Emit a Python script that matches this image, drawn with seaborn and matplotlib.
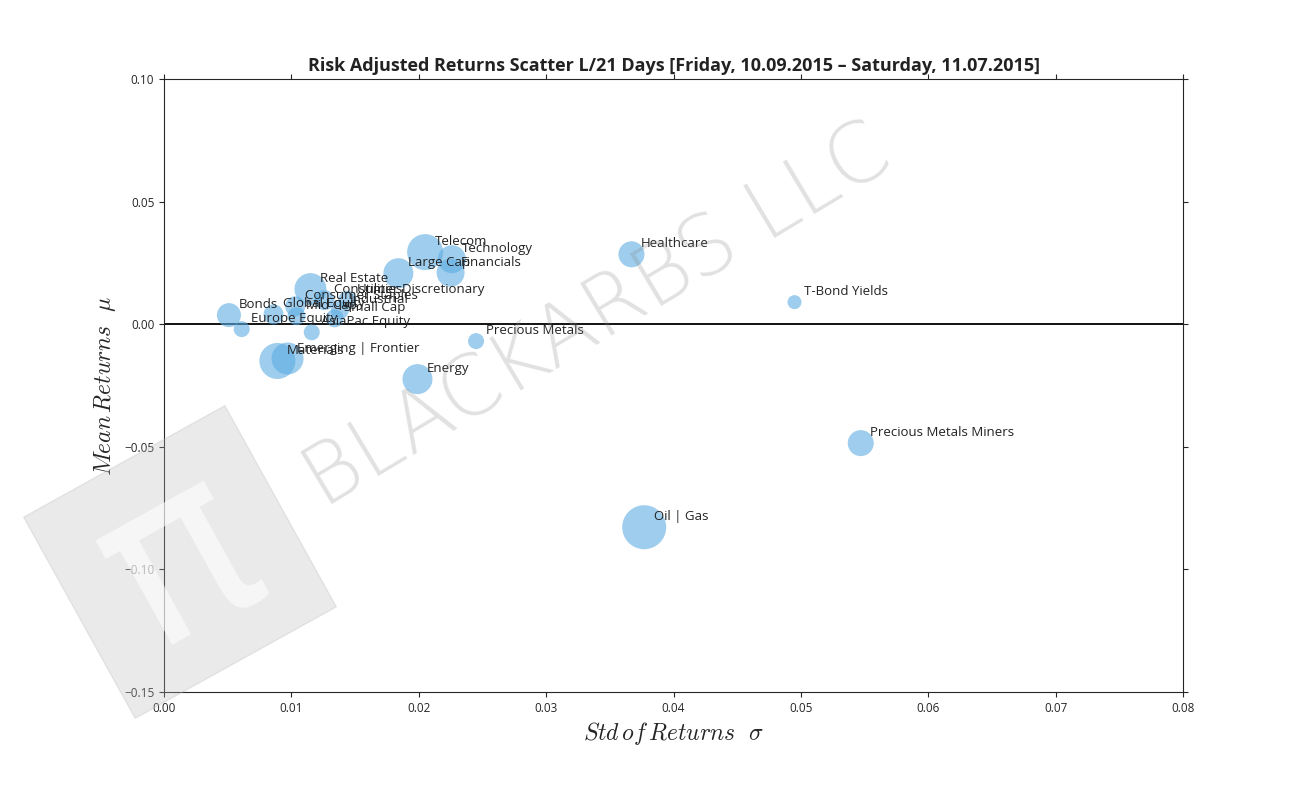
import matplotlib
matplotlib.use("Agg")
import matplotlib.pyplot as plt
import seaborn as sns
import pandas as pd
from matplotlib.patches import Rectangle
import matplotlib.transforms as mtransforms

names = ["Bonds","Europe Equity","Global Equity","Real Estate","Consumer Discretionary","Utilities",
         "Consumer Staples","Industrial","Mid Cap","Small Cap","AsiaPac Equity","Emerging | Frontier",
         "Materials","Large Cap","Telecom","Technology","Financials","Healthcare","T-Bond Yields",
         "Precious Metals","Energy","Precious Metals Miners","Oil | Gas"]
std = [0.0051,0.0061,0.0086,0.0115,0.0126,0.0144,0.0103,0.0138,0.0104,0.0134,0.0116,0.0097,
       0.0089,0.0184,0.0205,0.0226,0.0225,0.0367,0.0495,0.0245,0.0199,0.0547,0.0377]
mean = [0.0037,-0.0020,0.0040,0.0143,0.0098,0.0100,0.0073,0.0057,0.0033,0.0024,-0.0033,-0.0140,
        -0.0150,0.0208,0.0294,0.0265,0.0210,0.0285,0.0090,-0.0069,-0.0224,-0.0485,-0.0828]
radius = [12,8,10,16,10,9,10,9,9,9,8,16,18,15,18,14,14,13,7,8,15,13,22]

df = pd.DataFrame({"name":names,"std":std,"mean":mean,"s":[(2*r*0.72)**2 for r in radius]})

sns.set_style("ticks")
plt.rcParams['font.family'] = ['Open Sans', 'DejaVu Sans']
plt.rcParams['mathtext.fontset'] = 'cm'
fig = plt.figure(figsize=(13.14,7.92), dpi=100)
ax = fig.add_axes([164/1314, 1-692/792, (1183-164)/1314, (692-79)/792])

# watermark
fig.text(0.455, 0.6, "BLACKARBS LLC", rotation=31, fontsize=60, color="#888888", alpha=0.25,
         ha="center", va="center", family="DejaVu Sans", fontweight="light")
cx, cy = 180, 792-562
rect = Rectangle((cx-115, cy-115), 230, 230, transform=None, color="#bbbbbb", alpha=0.3, zorder=0)
rect.set_transform(mtransforms.Affine2D().rotate_deg_around(cx, cy, 29))
fig.patches.append(rect)
fig.text(cx/1314, cy/792, "π", rotation=29, fontsize=170, color="white", alpha=0.6, ha="center",
         va="center", family="DejaVu Sans")

ax.scatter(df["std"], df["mean"], s=df["s"], color="#5DADE2", alpha=0.6, edgecolors="none", zorder=3)
for n, x, y in zip(names, std, mean):
    ax.annotate(n, (x, y), xytext=(7, 5), textcoords="offset points", fontsize=9.5, color="#222222",
                family=["Open Sans","DejaVu Sans"], zorder=4)
ax.axhline(0, color="black", lw=1.3, zorder=2)
ax.set_xlim(0, 0.08)
ax.set_ylim(-0.15, 0.10)
ax.set_xticks([0,0.01,0.02,0.03,0.04,0.05,0.06,0.07,0.08])
ax.set_yticks([-0.15,-0.10,-0.05,0.0,0.05,0.10])
ax.xaxis.set_major_formatter(matplotlib.ticker.FormatStrFormatter('%.2f'))
ax.yaxis.set_major_formatter(matplotlib.ticker.FuncFormatter(lambda v,p: f"{v:.2f}".replace('-', '−')))
ax.tick_params(labelsize=8.5, top=True, right=True)
ax.set_xlabel(r"$Std\,of\,Returns\ \ \sigma$", fontsize=17)
ax.set_ylabel(r"$Mean\,Returns\ \ \mu$", fontsize=17)
ax.set_title("Risk Adjusted Returns Scatter L/21 Days [Friday, 10.09.2015 – Saturday, 11.07.2015]",
             fontsize=13, fontweight="bold", family=["Open Sans","DejaVu Sans"], color="#222222")
fig.savefig("out.png", dpi=100)
